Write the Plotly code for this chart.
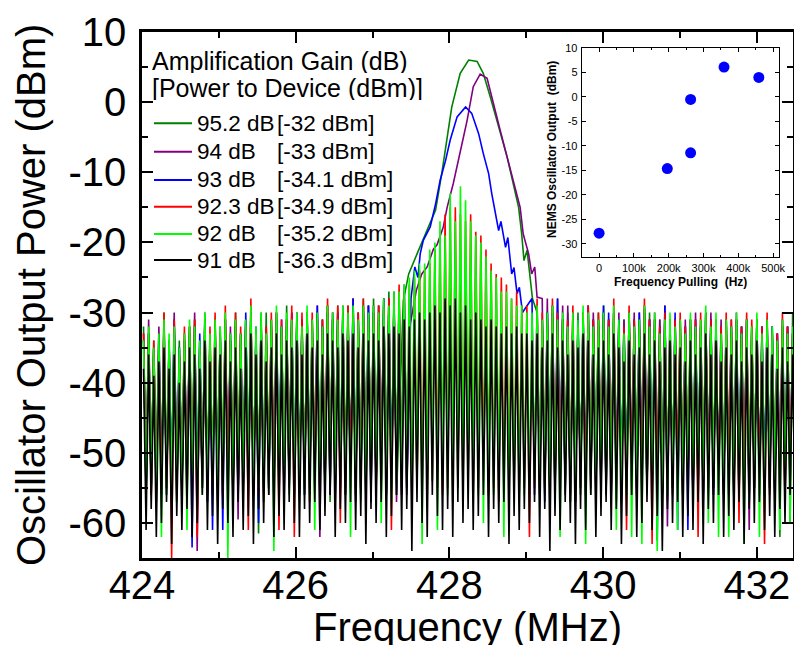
import plotly.graph_objects as go

# ---------------- data ----------------
F0 = 424.02      # first sweep point, MHz
DF = 0.0665      # spacing of the noisy sweep cycles, MHz

legend_gain = ["95.2 dB", "94 dB", "93 dB", "92.3 dB", "92 dB", "91 dB"]
legend_power = ["[-32 dBm]", "[-33 dBm]", "[-34.1 dBm]", "[-34.9 dBm]", "[-35.2 dBm]", "[-36.3 dBm]"]
series_colors = ["#008000", "#800080", "#0000ff", "#ff0000", "#00ff00", "#000000"]

N = None
# 91 dB (black)
black_top = [-38,-36,-39,-37,-35,-38,-36,-40,-37,-35,-36,-38,-34,-37,-35,
             -36,-34,-37,-35,-38,-35,-33,-36,-34,-37,-35,-33,-36,-34,-35,
             -34,-36,-33,-35,-34,-36,-33,-34,-35,-33,-34,-33,-35,-33,-34,
             -33,-34,-32,-33,-32,-33,-31,-32,-31,-30,-31,-30,-29,-30,-28,
             -29,-28,-30,-29,-31,-30,-31,-32,-31,-32,-33,-32,-33,-32,-33,
             -33,-34,-33,-35,-34,-33,-35,-34,-36,-34,-35,-33,-34,-36,-35,
             -34,-36,-33,-35,-37,-34,-36,-35,-33,-36,-34,-37,-35,-34,-36,
             -35,-37,-34,-36,-35,-33,-36,-34,-37,-35,-36,-34,-37,-35,-36,
             -34,-37,-35,-36,-38,-35,-37,-36]
black_bot = [-61,-58,-62,-60,-57,-63,-59,-61,-58,-62,-60,-56,-61,-59,-63,
             -58,-60,-62,-57,-61,-59,-63,-58,-60,-56,-62,-59,-61,-57,-60,
             -62,-58,-60,-57,-61,-59,-56,-62,-58,-60,-57,-61,-59,-63,-58,
             -60,-57,-62,-59,-56,-61,-58,-64,-57,-60,-62,-56,-59,-61,-58,
             -62,-57,-60,-58,-61,-59,-56,-62,-58,-60,-57,-63,-59,-61,-58,
             -60,-57,-62,-58,-64,-59,-61,-57,-60,-63,-58,-61,-56,-62,-59,
             -57,-61,-58,-63,-59,-56,-62,-60,-57,-61,-59,-64,-58,-60,-57,
             -62,-59,-61,-57,-63,-58,-60,-56,-62,-59,-61,-57,-63,-58,-60,
             -57,-61,-59,-62,-58,-60,-56,-61]
# 92 dB (bright green)
lime_top = [-34,-32,-35,-33,-31,-33,-32,-35,-33,-31,-32,-34,-30,-33,-31,
            -32,-30,-33,-31,-33,-31,-29,-32,-30,-33,-31,-29,-32,-30,-31,
            -30,-32,-29,-31,-30,-32,-29,-30,-31,-29,-30,-29,-31,-29,-30,
            -29,-30,-28,-29,-27,-27,-26,-25,-24,-23,-23,-21,-20,-17,-19,
            -13,-17,-12,-14,-17,-19,-20,-22,-24,-25,-27,-27,-28,-29,-29,
            -30,-30,-29,-31,-30,-29,-31,-30,-32,-30,-31,-29,-30,-32,-31,
            -30,-32,-29,-31,-33,-30,-32,-31,-29,-32,-30,-33,-31,-30,-32,
            -31,-33,-30,-32,-31,-29,-32,-30,-33,-31,-32,-30,-33,-31,-32,
            -30,-33,-31,-32,-34,-31,-33,-32]
lime_bot = [-56,-55,-57,-62,-56,-55,-57,-56,-61,-55,-57,-56,-55,-54,-56,
            -55,-65,-56,-54,-55,-54,-56,-55,-57,-55,-64,-55,-54,-56,-55,
            -57,-55,-56,-61,-55,-57,-54,-55,-54,-56,-62,-55,-57,-56,-55,
            -54,-60,-55,-57,-54,-55,-54,-56,-55,-63,-56,-54,-61,-54,-56,
            -55,-55,-56,-54,-55,-56,-60,-55,-56,-54,-62,-56,-55,-57,-56,
            -55,-54,-56,-55,-55,-56,-62,-55,-57,-56,-55,-63,-54,-54,-55,
            -55,-56,-61,-54,-56,-62,-55,-63,-56,-55,-64,-56,-56,-55,-61,
            -56,-54,-55,-55,-56,-60,-54,-62,-56,-62,-57,-56,-63,-57,-55,
            -62,-57,-55,-54,-61,-54,-60,-57]
# 92.3 dB (red)
red_top = [-33,-33,-34,-35,-30,-34,-31,-36,-32,-32,-31,-35,-31,-32,-30,
           -33,-29,-34,-30,-32,-32,-28,-33,-31,-32,-30,-30,-31,-31,-29,
           -31,-30,-30,-30,-31,-31,-28,-31,-29,-30,-29,-30,-30,-28,-31,
           -30,-29,-29,-28,-28,-26,-27,-26,-25,-24,-24,-23,-21,-19,-16,
           -15,-15,-16,-17,-16,-18.5,-19,-21,-23,-24.5,-25,-26,-28,-27,-29,
           -29,-31,-28,-30,-31,-28,-30,-31,-31,-29,-32,-30,-29,-31,-30,
           -31,-31,-28,-32,-32,-29,-31,-32,-28,-31,-31,-32,-30,-31,-31,
           -30,-32,-31,-31,-30,-30,-31,-31,-32,-30,-31,-31,-32,-30,-31,
           -31,-32,-30,-33,-33,-30,-32,-33]
red_bot = [-55,-56,-54,-56,-55,-65,-56,-55,-57,-56,-62,-55,-56,-55,-57,
           -56,-55,-56,-55,-56,-61,-55,-56,-57,-54,-56,-61,-55,-55,-62,
           -56,-55,-57,-55,-56,-55,-54,-56,-60,-55,-54,-56,-55,-56,-54,
           -56,-55,-56,-61,-54,-56,-55,-57,-55,-56,-57,-54,-55,-56,-55,
           -57,-55,-56,-55,-56,-55,-54,-56,-55,-57,-55,-56,-55,-56,-55,
           -62,-55,-56,-55,-57,-56,-55,-54,-56,-57,-55,-56,-54,-56,-55,
           -54,-56,-55,-57,-61,-54,-56,-55,-55,-63,-56,-56,-55,-56,-54,
           -56,-55,-57,-62,-56,-55,-54,-55,-56,-55,-57,-60,-55,-56,-55,
           -55,-63,-56,-55,-56,-57,-54,-56]
# 93 dB (blue): noisy sweep outside the locked peak, None where the peak is
blue_top = [-34,-33,-35,-34,-32,-34,-31,-35,-34,-33,-32,-33,-31,-34,-32,
            -33,-31,-34,-32,-33,-30,-30,-32,-31,-34,-32,-30,-31,-32,-30,
            -31,-31,-30,-32,-29,-32,-30,-31,-30,-30,-31,-28,-31,-30,-29,
            -30,-31,-28,-29,-28,-28,-27,N,N,N,N,N,N,N,N,
            N,N,N,N,N,N,N,N,N,N,N,N,N,N,N,
            N,-28,-29,-31,-30,-30,-28,-31,-31,-32,-31,-30,-29,-31,-32,
            -29,-30,-30,-31,-32,-30,-31,-30,-29.5,-31,-31,-32,-29,-32,-30,
            -32,-32,-31,-31,-32,-30,-31,-31,-33,-31,-32,-31,-32,-31,-33,
            -31,-32,-31,-32,-33,-31,-32,-33]
blue_bot = [-56,-55,-57,-55,-56,-55,-54,-56,-55,-63.5,-56,-55,-57,-61,-55,
            -61,-56,-55,-56,-54,-55,-56,-60,-55,-55,-56,-55,-57,-55,-56,
            -55,-56,-54,-55,-56,-55,-55,-57,-55,-56,-54,-55,-56,-55,-57,
            -55,-54,-56,-55,-54,-56,-55,N,N,N,N,N,N,N,N,
            N,N,N,N,N,N,N,N,N,N,N,N,N,N,N,
            N,-56,-55,-57,-55,-56,-54,-55,-56,-57,-55,-56,-54,-55,-56,
            -55,-56,-55,-54,-56,-54,-55,-56,-55,-56,-62.5,-55,-56,-55,-61,
            -55,-61,-56,-55,-57,-55,-56,-54,-55,-56,-55,-56,-55,-57,-55,
            -56,-55,-54,-56,-55,-54,-55,-56]
blue_peak_f = [427.50, 427.55, 427.59, 427.62, 427.66, 427.75, 427.82, 427.88, 427.95,
               428.01, 428.10, 428.21, 428.29, 428.38, 428.44, 428.51, 428.55, 428.60,
               428.64, 428.67, 428.73, 428.76, 428.81, 428.84, 428.88, 428.91, 428.95]
blue_peak_p = [-28.0, -23.5, -25.0, -21.6, -19.7, -17.8, -14.5, -11.1, -8.3,
               -5.4, -2.1, -0.7, -1.6, -4.5, -7.3, -10.2, -13.0, -15.9,
               -18.3, -17.0, -20.7, -19.3, -24.5, -23.6, -27.3, -26.4, -30.0]
# 94 dB (purple)
purple_top = [-33,-31,-35,-32,-31,-34,-30,-35,-33,-32,-30,-35,-31,-33,-31,
              -33,-31,-32,-31,-33,-31,-30,-33,-31,-32,-31,-30,-32,-31,-30,
              -30,-31,-30,-31,-29,-31,-29,-30,-30,-29,-30,-28,-30,-29,-29,
              -29,-29,-28,-28,-27,-28,-26,N,N,N,N,N,N,N,N,
              N,N,N,N,N,N,N,N,N,N,N,N,N,N,N,
              N,N,N,-28,-28,-29,-28,-29,-29,-30,-31,-31,-29,-30,-31,
              -30,-31,-30,-30,-31,-30,-30,-30,-29,-31,-30,-31,-29,-31,-31,
              -31,-31,-32,-30,-32,-31,-30,-32,-31,-32,-31,-30,-32,-31,-32,
              -31,-32,-31,-32,-33,-32,-32,-33]
purple_bot = [-55,-56,-54,-56,-55,-56,-57,-55,-56,-54,-64,-55,-56,-55,-54,
              -56,-55,-57,-59.5,-55,-56,-55,-54,-56,-55,-57,-55,-56,-54,-55,
              -56,-55,-54,-56,-62,-55,-56,-54,-55,-56,-55,-57,-55,-54,-56,
              -55,-56,-54,-55,-57,-55,-56,N,N,N,N,N,N,N,N,
              N,N,N,N,N,N,N,N,N,N,N,N,N,N,N,
              N,N,N,-55,-56,-54,-55,-56,-57,-55,-54,-56,-55,-56,-54,
              -56,-55,-54,-56,-55,-55,-56,-54,-55,-56,-55,-56,-60.5,-55,-54,
              -56,-55,-57,-55,-56,-54,-55,-56,-55,-54,-56,-55,-56,-61,-55,
              -56,-54,-55,-56,-55,-57,-55,-56]
purple_peak_f = [427.49, 427.57, 427.64, 427.71, 427.79, 427.84, 427.92, 427.97, 428.05,
                 428.14, 428.23, 428.31, 428.40, 428.49, 428.57, 428.66, 428.75, 428.84,
                 428.92, 428.96, 429.00, 429.03, 429.07, 429.11, 429.14]
purple_peak_p = [-31.6, -26.8, -24.5, -23.5, -21.0, -20.3, -17.8, -15.0, -11.6,
                 -6.9, -2.6, 2.2, 4.0, 3.4, -0.2, -4.0, -7.8, -11.6,
                 -15.0, -18.8, -20.5, -21.6, -24.5, -23.5, -27.8]
# 95.2 dB (dark green)
dgreen_top = [-32,-33,-34,-33,-30,-35,-32,-34,-34,-32,-31,-34,-30,-34,-32,
              -32,-31,-33,-30,-33,-31,-30,-33,-30,-30,-31,-31,-32,-29,-31,
              -30,-31,-30,-31,-30,-31,-29,-30,-29,-30,-29,-28,-30,-28,-29,
              -28,-29,-28,-27,-28,N,N,N,N,N,N,N,N,N,N,
              N,N,N,N,N,N,N,N,N,N,N,N,N,N,N,
              N,N,-30,-31,-30,-29,-31,-31,-30,-31,-30,-30,-31,-31,-30,
              -29,-31,-30,-31,-31,-30,-31,-31,-30,-30,-31,-31,-30,-31,-31,
              -31,-32,-31,-32,-31,-30,-31,-32,-32,-31,-32,-31,-32,-31,-32,
              -31,-33,-32,-32,-33,-32,-32,-30]
dgreen_bot = [-56,-55,-54,-56,-55,-57,-55,-56,-54,-55,-56,-55,-57,-56,-55,
              -54,-56,-55,-56,-55,-54,-56,-61.5,-55,-56,-55,-57,-54,-55,-56,
              -55,-56,-55,-54,-56,-55,-57,-55,-56,-54,-55,-56,-55,-57,-56,
              -55,-54,-56,-55,-56,N,N,N,N,N,N,N,N,N,N,
              N,N,N,N,N,N,N,N,N,N,N,N,N,N,N,
              N,N,-55,-56,-54,-55,-56,-55,-57,-54,-56,-55,-56,-55,-54,
              -56,-55,-57,-55,-54,-56,-55,-56,-54,-55,-56,-55,-57,-55,-56,
              -55,-54,-56,-55,-57,-56,-55,-54,-56,-55,-56,-57,-55,-56,-54,
              -55,-56,-55,-54,-62,-55,-60,-63]
dgreen_peak_f = [427.40, 427.47, 427.58, 427.71, 427.82, 427.90, 427.97, 428.03, 428.14,
                 428.25, 428.36, 428.44, 428.53, 428.64, 428.75, 428.84, 428.90, 428.94,
                 428.97, 429.01, 429.04, 429.08]
dgreen_peak_p = [-28.3, -24.5, -21.6, -18.3, -15.4, -10.2, -5.4, -0.7, 4.1,
                 6.0, 5.8, 4.1, 0.8, -3.5, -7.8, -12.1, -15.0, -18.8,
                 -22.6, -21.1, -24.5, -28.0]

# inset: frequency pulling vs oscillator output
pull_hz = [0, 196000, 263000, 263000, 359000, 459000]
pull_out = [-27.8, -14.6, -11.4, -0.5, 6.1, 4.0]

main_xticks = [424, 426, 428, 430, 432]
main_yticks = [10, 0, -10, -20, -30, -40, -50, -60]
inset_xticks = [0, 100000, 200000, 300000, 400000, 500000]
inset_xtext = ["0", "100k", "200k", "300k", "400k", "500k"]
inset_yticks = [10, 5, 0, -5, -10, -15, -20, -25, -30]

# ---------------- build ----------------
def sweep(tops, bots, pf=None, pp=None):
    xs, ys, done = [], [], False
    for k, (t, b) in enumerate(zip(tops, bots)):
        if t is None:
            if pf is not None and not done:
                xs += pf
                ys += pp
                done = True
            continue
        f = F0 + k * DF
        xs += [f, f + DF / 2]
        ys += [t, b]
    return xs, ys

traces = [
    sweep(dgreen_top, dgreen_bot, dgreen_peak_f, dgreen_peak_p),
    sweep(purple_top, purple_bot, purple_peak_f, purple_peak_p),
    sweep(blue_top, blue_bot, blue_peak_f, blue_peak_p),
    sweep(red_top, red_bot),
    sweep(lime_top, lime_bot),
    sweep(black_top, black_bot),
]

FONT = "Liberation Sans, Arial, sans-serif"
W, H = 794, 660
X0, X1, Y0, Y1 = 142, 793, 32, 558   # plot area in page pixels
L, T, R, B = X0, Y0, W - X1, H - Y1

def px(x):
    return (x - X0) / (X1 - X0)

def py(y):
    return (Y1 - y) / (Y1 - Y0)

fig = go.Figure()
for (xs, ys), col, name in zip(traces, series_colors, legend_gain):
    fig.add_trace(go.Scatter(x=xs, y=ys, mode="lines", name=name,
                             line=dict(color=col, width=1.6),
                             showlegend=False, hoverinfo="skip"))

fig.add_trace(go.Scatter(x=pull_hz, y=pull_out, mode="markers", xaxis="x2", yaxis="y2",
                         marker=dict(color="#0000ff", size=11), showlegend=False))

axis_common = dict(showgrid=False, zeroline=False, showline=True, linecolor="black",
                   ticks="inside", mirror="ticks", tickcolor="black", automargin=False)

fig.update_layout(
    width=W, height=H, margin=dict(l=L, r=R, t=T, b=B, autoexpand=False),
    paper_bgcolor="white", plot_bgcolor="white",
    font=dict(family=FONT, color="black"),
    xaxis=dict(axis_common, range=[424, 432.47], tickvals=main_xticks,
               ticktext=[str(v) for v in main_xticks], ticklen=11, tickwidth=2, linewidth=2.5,
               minor=dict(tickvals=[425, 427, 429, 431], ticklen=6, tickwidth=2, ticks="inside"),
               tickfont=dict(size=40, family=FONT), ticklabelstandoff=-10),
    yaxis=dict(axis_common, range=[-65, 10], tickvals=main_yticks,
               ticktext=[str(v) for v in main_yticks], ticklen=11, tickwidth=2, linewidth=2.5,
               minor=dict(tickvals=[5, -5, -15, -25, -35, -45, -55], ticklen=6, tickwidth=2, ticks="inside"),
               tickfont=dict(size=40, family=FONT), ticklabelstandoff=5),
    xaxis2=dict(axis_common, domain=[px(581.7), px(779)], anchor="y2", range=[-50000, 517000],
                tickvals=inset_xticks, ticktext=inset_xtext, ticklen=4, tickwidth=1, linewidth=1,
                minor=dict(tickvals=[50000, 150000, 250000, 350000, 450000], ticklen=2, ticks="inside"),
                tickfont=dict(size=11, family=FONT), ticklabelstandoff=1),
    yaxis2=dict(axis_common, domain=[py(256.7), py(48)], anchor="x2", range=[-32.6, 10],
                tickvals=inset_yticks, ticktext=[str(v) for v in inset_yticks], ticklen=4,
                tickwidth=1, linewidth=1, tickfont=dict(size=11, family=FONT), ticklabelstandoff=1),
)

ann = []
ann.append(dict(text="Frequency (MHz)", x=px(467.5), y=py(627), xref="paper", yref="paper",
                showarrow=False, font=dict(size=40, family=FONT), xanchor="center", yanchor="middle",
                height=36))
ann.append(dict(text="Oscillator Output Power (dBm)", x=px(31), y=py(295), xref="paper", yref="paper",
                showarrow=False, textangle=-90, font=dict(size=40, family=FONT),
                xanchor="center", yanchor="middle"))
ann.append(dict(text="<b>Frequency Pulling\u00a0 (Hz)</b>", x=px(680), y=py(282), xref="paper",
                yref="paper", showarrow=False, font=dict(size=12, family=FONT),
                xanchor="center", yanchor="middle"))
ann.append(dict(text="<b>NEMS Oscillator Output\u00a0 (dBm)</b>", x=px(552), y=py(150), xref="paper",
                yref="paper", showarrow=False, textangle=-90, font=dict(size=12, family=FONT),
                xanchor="center", yanchor="middle"))
ann.append(dict(text="Amplification Gain (dB)", x=px(150), y=py(61), xref="paper", yref="paper",
                showarrow=False, font=dict(size=25, family=FONT), xanchor="left", yanchor="middle",
                height=24))
ann.append(dict(text="[Power to Device (dBm)]", x=px(150), y=py(87.5), xref="paper", yref="paper",
                showarrow=False, font=dict(size=25, family=FONT), xanchor="left", yanchor="middle",
                height=24))

row_y = [123.3, 151.7, 180.0, 206.7, 234.0, 260.0]
shapes = []
for gname, pw, col, ry in zip(legend_gain, legend_power, series_colors, row_y):
    shapes.append(dict(type="line", xref="paper", yref="paper", x0=px(154), x1=px(192),
                       y0=py(ry), y1=py(ry), line=dict(color=col, width=2)))
    ann.append(dict(text=gname, x=px(195), y=py(ry), xref="paper", yref="paper", showarrow=False,
                    font=dict(size=22.5, family=FONT), xanchor="left", yanchor="middle"))
    ann.append(dict(text=pw, x=px(275), y=py(ry), xref="paper", yref="paper", showarrow=False,
                    font=dict(size=22.5, family=FONT), xanchor="left", yanchor="middle"))

fig.update_layout(annotations=ann, shapes=shapes)
fig.write_html("out.html", config={"displayModeBar": False},
               post_script="document.body.style.margin='0px';document.body.style.overflow='hidden';")
